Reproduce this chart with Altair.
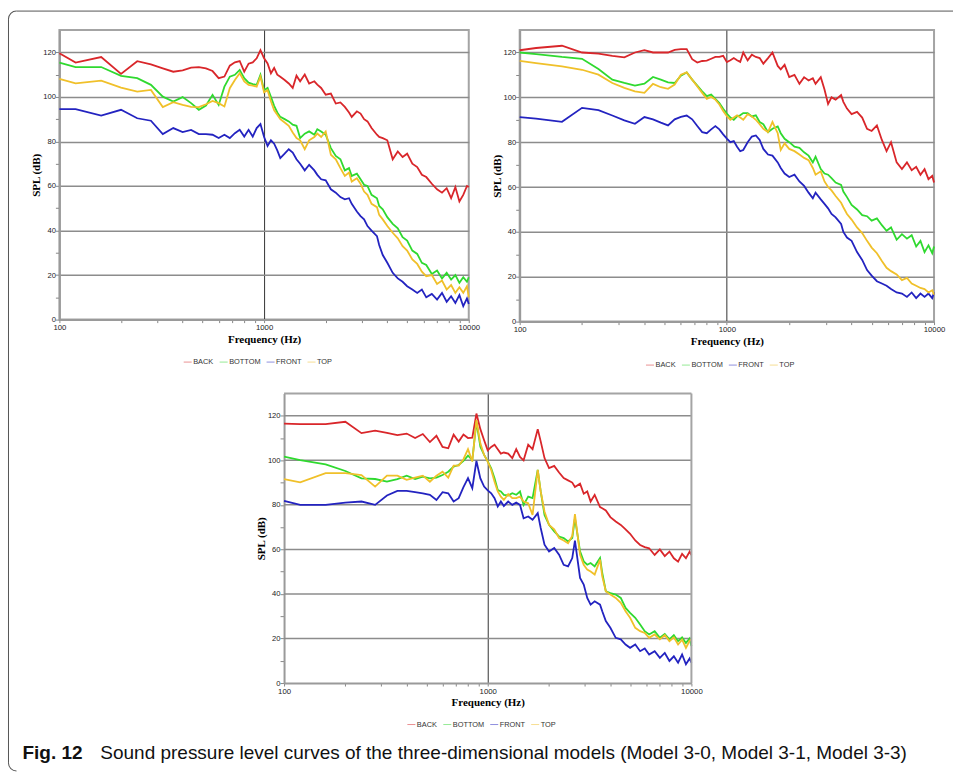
import altair as alt
import pandas as pd

# Frequency grid (Hz) shared by every curve
FREQ = [100, 120, 160, 200, 240, 280, 320, 360, 400, 440, 480, 520, 560, 600,
        640, 680, 720, 760, 800, 840, 880, 920, 960, 1000,
        1040, 1080, 1120, 1160, 1200, 1260, 1320, 1380, 1440, 1500,
        1580, 1660, 1760, 1820, 1900, 2000, 2120, 2240, 2360, 2480,
        2600, 2680, 2840, 2960, 3080, 3200, 3350, 3560, 3650, 3800,
        4000, 4250, 4500, 4750, 5000, 5300, 5600, 5900, 6200, 6600,
        7000, 7400, 7800, 8200, 8600, 9000, 9400, 9800, 10000]

SERIES = ["BACK", "BOTTOM", "FRONT", "TOP"]
COLORS = ["#d9262a", "#2fd92f", "#2323c0", "#f0c02a"]

# Model 3-0 (dB)
M30_BACK = [119.6, 115.4, 117.9, 110.3, 116, 114.6, 112.8, 111.3, 111.9, 113.1, 113.4, 112.8,
            111.6, 108.4, 109.1, 114, 115.5, 116.1, 111.3, 114.9, 115.5, 117.3, 121, 117.3,
            115, 110.6, 113, 110, 109, 107.6, 106, 104, 109.5, 107,
            110, 106, 107, 105.5, 104, 101, 101.5, 97, 97.5, 95.5,
            93, 91, 93.5, 92.5, 90, 89, 86, 83, 82, 81.5,
            80.5, 72, 75.5, 73, 74.5, 70, 68.5, 65, 64, 61,
            58.5, 57, 59, 54.5, 59.5, 53, 56, 60, 59.5]
M30_BOTTOM = [115.4, 113.4, 113.4, 109.4, 108.4, 105.4, 100.1, 97.9, 99.9, 97.2, 94.2, 96.1,
              100.9, 96.4, 104.6, 109.1, 109.9, 112.1, 108.4, 106.4, 105.7, 105.4, 109.9, 103,
              104, 100, 96, 93, 91, 90, 89, 87.5, 87, 81.5,
              83.5, 84.5, 83, 85.5, 84.5, 83, 77, 73.5, 72, 67,
              68, 64.5, 65.5, 63, 60.5, 60, 56, 54.5, 51, 49.5,
              46, 43, 41, 37, 35.5, 31, 29.5, 25.5, 24.5, 20.5,
              22, 18.5, 21, 18, 20, 16.5, 19, 17, 19]
M30_FRONT = [94.5, 94.5, 91.6, 94.2, 90.4, 89.3, 83.3, 86, 84.2, 85.2, 83.3, 83.3,
             83, 81.5, 83, 81.5, 83.7, 85.2, 82.2, 85.2, 82.2, 86, 87.8, 82,
             78, 80.5, 79, 76, 72.5, 74.5, 76.5, 75, 72, 70,
             67, 69.5, 67, 65, 63, 62.5, 58.5, 57, 55, 54,
             54.5, 52, 48.5, 46.5, 45, 42, 40, 37.5, 33.5, 29,
             25.5, 21, 18.5, 17, 15, 13.5, 12, 13.5, 10, 11.5,
             9, 12, 8, 10.5, 7.5, 11, 6, 9.5, 7]
M30_TOP = [108.1, 106.1, 107.3, 104.2, 102.4, 103.1, 95.4, 97.6, 96.4, 95.5, 95.4, 96.7,
           98.2, 97.2, 95.7, 103.9, 107.6, 110.6, 106.9, 105.4, 105.1, 104.6, 109.1, 102,
           103, 98, 94, 92, 90, 88.5, 87, 84, 81.5, 80.5,
           76.5, 80.5, 82, 83.5, 82, 84.5, 74, 72, 68, 64.5,
           66, 62, 63.5, 61, 57.5, 56, 52, 50.5, 47, 45,
           42, 39, 36.5, 33, 31, 27, 25, 21.5, 19.5, 20,
           16, 17.5, 13.5, 15.5, 12, 14.5, 12, 15, 10]

# Model 3-1 (dB)
M31_BACK = [121, 122, 123, 120, 119.5, 118.5, 117.8, 120, 121, 120, 120, 120,
            121.2, 121.5, 121.5, 117, 115.5, 116.2, 116.4, 117.2, 118, 118, 118.5, 115.7,
            116.5, 117.5, 116.5, 115.8, 120, 116.5, 119, 118, 117.5, 115,
            117.5, 120, 114, 112.5, 114.5, 109, 110, 106, 109, 107.5,
            108.5, 106, 109, 103.5, 97, 100, 99, 101, 98, 95,
            92.5, 93.5, 91, 86, 85, 87.5, 81, 76, 80, 71,
            68, 71, 67.5, 69, 65.5, 68, 63.5, 65, 62]
M31_BOTTOM = [120, 119.3, 118, 117.2, 112.6, 107.9, 106.4, 105.2, 106.1, 109.1, 107.9, 106.7,
              106.4, 109.7, 111.1, 107.9, 105.2, 102.7, 100.5, 101.2, 99.3, 97.5, 94.9, 92.8,
              91, 90, 91.5, 92, 93, 93, 91.5, 92, 89, 88,
              84.5, 86, 87, 84, 81.5, 80, 78, 77.5, 75.5, 74,
              71, 73.5, 68, 66, 65.5, 64, 62, 61, 58, 55.5,
              52, 50, 47.5, 47, 45, 46, 43, 40.5, 42, 36.5,
              39, 37, 38.5, 33.5, 36, 31, 34, 30.5, 33.5]
M31_FRONT = [91.2, 90.5, 89.1, 95.3, 94.3, 91.9, 89.7, 88.2, 91.2, 90.2, 88.7, 87.5,
             90.2, 91.3, 91.9, 90.2, 87.2, 84.5, 84, 85.7, 87.2, 85.7, 83.5, 81.6,
             80, 80.5, 78, 76, 76.5, 80, 82.5, 83, 81, 77,
             74.5, 74, 71, 68.5, 66, 64.5, 65.5, 62.5, 60.5, 57.5,
             55, 57.5, 54.5, 52.5, 50.5, 48, 46.5, 43.5, 40, 37.5,
             36, 31, 27.5, 23, 20.5, 18, 17, 16, 14.5, 13,
             12.5, 11, 13, 10.5, 12.5, 11, 12.5, 10.5, 13]
M31_TOP = [116.3, 115.3, 113.8, 112.3, 110.1, 106.4, 104.2, 102.7, 102, 106, 104.5, 103.8,
           105.7, 110.1, 111.1, 107.9, 104.9, 102, 99.3, 100.2, 99, 96.8, 93.9, 91.6,
           90, 91, 92, 91, 90, 92.5, 91.5, 90, 88, 86,
           84.5, 89, 84, 76.5, 79.5, 77, 76, 74.5, 73, 72,
           68.5, 65.5, 67, 62.5, 60, 58.5, 56, 53, 51, 48,
           45.5, 42, 39.5, 36, 33, 30.5, 27, 24, 22.5, 21,
           18.5, 19.5, 17, 16, 15, 14.5, 13, 14, 12]

# Model 3-3 (dB)
M33_BACK = [116.5, 116.2, 116.2, 117.3, 112.2, 113.3, 112.3, 111.3, 112, 110, 111.8, 108.2,
            111, 106, 105.4, 111.5, 108.4, 111.6, 110, 110.2, 121, 114, 109, 104.5,
            106, 107, 105, 103, 103.5, 103, 101, 105, 101.5, 100,
            107, 105, 114, 108.5, 101, 96.5, 97.5, 94.5, 92, 91,
            90, 88, 89.5, 85, 86, 81.5, 84.5, 79, 78.5, 77.5,
            74.5, 72.5, 71, 69, 67, 64, 62, 61, 60.5, 57.5,
            60, 57, 59, 56, 54.5, 58, 56, 59, 57.5]
M33_BOTTOM = [101.6, 100.1, 98.2, 95.2, 91.9, 91.6, 90.4, 91.6, 93.1, 91.6, 92.7, 91.9,
              92.2, 93.4, 94.9, 97.2, 97.9, 99.7, 102.1, 100.1, 117.3, 106.1, 102.4, 99.5,
              96.4, 91.9, 86.7, 86, 84.5, 84.2, 85.2, 84.5, 86, 80,
              83.7, 83, 95.7, 86, 75.5, 71, 68.1, 65.8, 65.1, 63.6,
              65.1, 74, 59.1, 54.6, 53.1, 53.9, 52.4, 56.1, 49.4, 41.2,
              40.4, 39.7, 38.2, 33.7, 31.5, 29.3, 26.3, 23.3, 21.8, 23.3,
              20.3, 22, 19.6, 21.5, 18.8, 20.5, 18, 20, 16.6]
M33_FRONT = [81.8, 80, 80, 81, 81.5, 80, 84.2, 86.3, 86.3, 85.7, 85.2, 84.5,
             82.2, 85.7, 85.2, 81.5, 83, 88, 92, 87.5, 99.7, 91.9, 88.2, 86.5,
             85.2, 83, 79.3, 81.5, 79.5, 81.5, 80, 81, 80, 74,
             74.8, 73.3, 76.3, 69.6, 62.1, 59.1, 60.6, 57.6, 53.1, 52.4,
             56.1, 63.9, 47.2, 44.2, 38.2, 35.2, 36.7, 35.2, 32.2, 27.8,
             24.8, 20.3, 19.6, 17.3, 15.8, 17.3, 14.3, 15.5, 12.8, 14.3,
             11.3, 13.5, 9.9, 12, 9.1, 12.8, 8.4, 11, 9.1]
M33_TOP = [91.6, 90.1, 94.2, 94.2, 93.4, 88.2, 93.1, 93.1, 91.2, 92.2, 93.1, 90.4,
           93.1, 94.9, 92.2, 97.6, 97.6, 100.5, 105, 99.5, 118.1, 107.6, 102.4, 99.4,
           95.7, 90.4, 86, 83.7, 82.2, 84.8, 83, 83, 83.7, 81.5,
           80.7, 75.5, 95.7, 86, 77, 71, 69, 65.1, 64, 62.8,
           66, 75.8, 57.6, 53.1, 50.9, 50.1, 48.7, 55.4, 47.9, 41.2,
           39.7, 38.2, 36, 32.2, 29.3, 24.8, 23.3, 22.5, 20.3, 21.8,
           19.6, 21.5, 18.8, 20.5, 17.3, 19.5, 15.8, 19, 19.6]

X_TICKS = [100, 200, 300, 400, 500, 600, 700, 800, 900,
           1000, 2000, 3000, 4000, 5000, 6000, 7000, 8000, 9000, 10000]
Y_TICKS = list(range(0, 130, 10))
Y_GRID = [20, 40, 60, 80, 100, 120]

SANS = "Liberation Sans"
SERIF = "Liberation Serif"
CAPTION_FONT = "Liberation Sans"
FRAME_COLOR = "#a4a4a4"
GRID_COLOR = "#8c8c8c"


def curves_table(back, bottom, front, top):
    rows = []
    for name, vals in zip(SERIES, [back, bottom, front, top]):
        assert len(vals) == len(FREQ), name
        for f, v in zip(FREQ, vals):
            rows.append({"freq": f, "spl": v, "series": name})
    return pd.DataFrame(rows)


def y_encoding(offset=0, grid=True):
    extra = {}
    if offset:
        extra["offset"] = offset
    axis = alt.Axis(
        values=Y_TICKS, title="SPL (dB)",
        labelExpr="datum.value % 20 == 0 ? datum.label : ''",
        labelOverlap=False, labelFont=SANS, labelFontSize=7.6, labelColor="#222",
        labelPadding=0, tickSize=4, tickColor="#888",
        domainColor="#9a9a9a", domainWidth=2,
        grid=grid, gridColor=GRID_COLOR, gridWidth=1.5,
        gridOpacity={"condition": {"test": "datum.value % 20 == 0 && datum.value > 0", "value": 1}, "value": 0},
        titleFont=SERIF, titleFontWeight="bold", titleFontSize=11, titleColor="#000",
        titlePadding=1, **extra,
    )
    return alt.Y("spl:Q", scale=alt.Scale(domain=[0, 130], nice=False), axis=axis)


def spl_lines(table, legend_x, legend_y, x_range=None, y_offset=0, y_grid=True):
    x_axis = alt.Axis(
        values=X_TICKS, format="d", title="Frequency (Hz)",
        labelExpr="datum.value == 100 || datum.value == 1000 || datum.value == 10000 ? datum.label : ''",
        labelFlush=False, labelOverlap=False, labelFont=SANS, labelFontSize=7.8,
        labelColor="#222", labelPadding=1, tickSize=3, tickColor="#888",
        domainColor="#9a9a9a", domainWidth=2,
        grid=True, gridColor="#333", gridWidth=1,
        gridOpacity={"condition": {"test": "datum.value == 1000", "value": 1}, "value": 0},
        titleFont=SERIF, titleFontWeight="bold", titleFontSize=11, titleColor="#000",
        titlePadding=2,
    )
    scale_args = {"type": "log", "domain": [100, 10000], "nice": False}
    if x_range is not None:
        scale_args["range"] = x_range
    legend = alt.Legend(
        title=None, orient="none", legendX=legend_x, legendY=legend_y,
        direction="horizontal", symbolType="stroke", symbolStrokeWidth=1,
        symbolSize=64, symbolOpacity=0.5, labelFont=SANS, labelFontSize=7.4,
        labelColor="#333", labelOffset=1, columnPadding=3, padding=0,
    )
    return alt.Chart(table).mark_line(strokeWidth=1.8).encode(
        x=alt.X("freq:Q", scale=alt.Scale(**scale_args), axis=x_axis),
        y=y_encoding(y_offset, y_grid),
        color=alt.Color("series:N", scale=alt.Scale(domain=SERIES, range=COLORS), legend=legend),
        order=alt.Order("freq:Q"),
    )


FRAME = alt.ViewBackground(stroke=FRAME_COLOR, strokeWidth=2)

# Figure border and caption, placed relative to the first panel's plot area
one = pd.DataFrame({"k": [0]})
border_color = "#555"
top_line = alt.Chart(one).mark_rule(color=border_color, strokeWidth=1).encode(
    x=alt.value(-43), x2=alt.value(895), y=alt.value(-19))
left_line = alt.Chart(one).mark_rule(color=border_color, strokeWidth=1).encode(
    x=alt.value(-51), y=alt.value(-11), y2=alt.value(734))
corner_top = alt.Chart(one).mark_arc(color=border_color).encode(
    x=alt.value(-43), y=alt.value(-11), radius=alt.value(8.5), radius2=alt.value(7.5),
    theta=alt.value(4.712), theta2=alt.value(6.2832))
corner_bottom = alt.Chart(one).mark_arc(color=border_color).encode(
    x=alt.value(-43), y=alt.value(734), radius=alt.value(8.5), radius2=alt.value(7.5),
    theta=alt.value(3.1416), theta2=alt.value(4.712))
fig_label = alt.Chart(one).mark_text(
    align="left", baseline="alphabetic", font=CAPTION_FONT, fontSize=19,
    fontWeight="bold", color="#111").encode(
    x=alt.value(-37), y=alt.value(730), text=alt.value("Fig. 12"))
fig_text = alt.Chart(one).mark_text(
    align="left", baseline="alphabetic", font=CAPTION_FONT, fontSize=19, color="#111").encode(
    x=alt.value(41), y=alt.value(730),
    text=alt.value("Sound pressure level curves of the three-dimensional models (Model 3-0, Model 3-1, Model 3-3)"))

p1 = alt.layer(
    spl_lines(curves_table(M30_BACK, M30_BOTTOM, M30_FRONT, M30_TOP), 124, 328),
    top_line, left_line, corner_top, corner_bottom, fig_label, fig_text,
).properties(width=410, height=290, view=FRAME)

p2 = spl_lines(curves_table(M31_BACK, M31_BOTTOM, M31_FRONT, M31_TOP), 126, 331).properties(
    width=415, height=292, view=FRAME)

# Third panel sits centred under the first row: its plot spans x = 225..633
# inside a cell that starts under the first panel.
P3_LEFT, P3_RIGHT, P3_H = 225, 633, 290
grid3 = alt.Chart(pd.DataFrame({"spl": Y_GRID})).mark_rule(
    color=GRID_COLOR, strokeWidth=1.5).encode(
    y=y_encoding(-P3_LEFT, False), x=alt.value(P3_LEFT), x2=alt.value(P3_RIGHT))
lines3 = spl_lines(curves_table(M33_BACK, M33_BOTTOM, M33_FRONT, M33_TOP),
                   P3_LEFT + 123, 327, x_range=[P3_LEFT, P3_RIGHT],
                   y_offset=-P3_LEFT, y_grid=False)
frame3_top = alt.Chart(one).mark_rule(color=FRAME_COLOR, strokeWidth=2).encode(
    x=alt.value(P3_LEFT), x2=alt.value(P3_RIGHT), y=alt.value(0))
frame3_right = alt.Chart(one).mark_rule(color=FRAME_COLOR, strokeWidth=2).encode(
    x=alt.value(P3_RIGHT), y=alt.value(0), y2=alt.value(P3_H))
p3 = alt.layer(grid3, lines3, frame3_top, frame3_right).properties(
    width=408, height=P3_H, view=alt.ViewBackground(stroke="transparent"))

chart = alt.concat(
    p1, p2, p3, columns=2, bounds="flush", align="each",
    spacing={"row": 72, "column": 51},
).resolve_scale(color="independent").resolve_legend(color="independent").properties(
    padding={"left": 6.5, "top": 8.5, "right": 0, "bottom": 0},
    background="white",
)

chart.save("out.html", embed_options={"renderer": "svg", "actions": False})
